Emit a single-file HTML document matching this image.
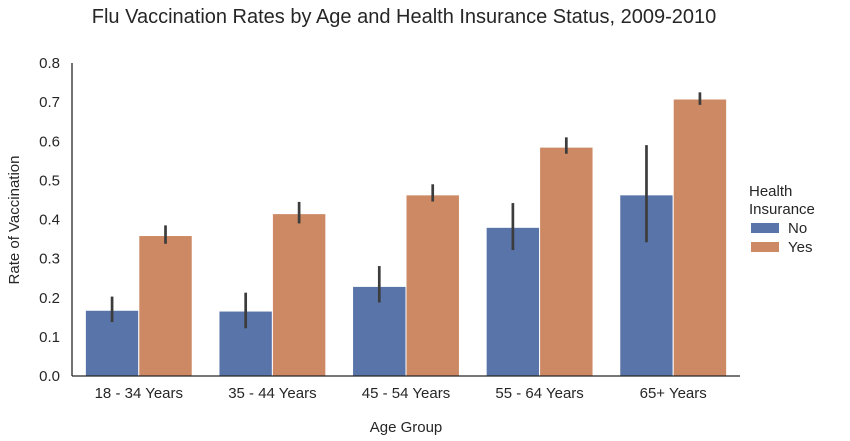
<!DOCTYPE html>
<html><head><meta charset="utf-8"><style>
body{margin:0;background:#fff;font-family:"Liberation Sans",sans-serif;}
svg{display:block}
</style></head><body>
<svg id="chart" width="850" height="441" font-family="Liberation Sans, sans-serif">
<text x="404" y="23" font-size="20" fill="#262626" text-anchor="middle">Flu Vaccination Rates by Age and Health Insurance Status, 2009-2010</text>
<text x="406" y="432" font-size="15" fill="#262626" text-anchor="middle">Age Group</text>
<text transform="translate(19,220) rotate(-90)" font-size="15" fill="#262626" text-anchor="middle">Rate of Vaccination</text>
<g id="bars"></g><g id="axes"></g>
<g>
<text x="749" y="196" font-size="15" fill="#262626">Health</text>
<text x="749" y="214" font-size="15" fill="#262626">Insurance</text>
<rect x="751" y="223" width="28" height="10" fill="#5874a8"/>
<text x="788" y="233" font-size="15" fill="#262626">No</text>
<rect x="751" y="242" width="28" height="10" fill="#cc8963"/>
<text x="788" y="252" font-size="15" fill="#262626">Yes</text>
</g>
</svg>
<script>
const categories=["18 - 34 Years","35 - 44 Years","45 - 54 Years","55 - 64 Years","65+ Years"];
const noValues=[0.168,0.166,0.229,0.380,0.463];
const yesValues=[0.359,0.415,0.463,0.585,0.708];
const noLow=[0.138,0.122,0.188,0.322,0.342];
const noHigh=[0.203,0.213,0.281,0.442,0.590];
const yesLow=[0.338,0.390,0.446,0.568,0.693];
const yesHigh=[0.385,0.445,0.490,0.610,0.725];
const yTicks=[0,0.1,0.2,0.3,0.4,0.5,0.6,0.7,0.8];
const NS="http://www.w3.org/2000/svg";
const x0=72,x1=740,yb=376,yt=63,ymax=0.8;
const y=v=>yb-(v/ymax)*(yb-yt);
const band=(x1-x0)/categories.length;
const cx=i=>x0+band*(i+0.5);
const bw=band*0.4;
function mk(tag,attrs,parent){const e=document.createElementNS(NS,tag);for(const k in attrs)e.setAttribute(k,attrs[k]);parent.appendChild(e);return e;}
const bars=document.getElementById('bars'),axes=document.getElementById('axes');
categories.forEach((c,i)=>{
 [[noValues,noLow,noHigh,'#5874a8',-1,'no'],[yesValues,yesLow,yesHigh,'#cc8963',0,'yes']].forEach(s=>{
  const xl=cx(i)+s[4]*bw;
  const r=mk('rect',{x:xl,y:y(s[0][i]),width:bw,height:yb-y(s[0][i]),fill:s[3],stroke:'#fff','stroke-width':1},bars);
  
  
  const l=mk('line',{x1:xl+bw/2,x2:xl+bw/2,y1:y(s[1][i]),y2:y(s[2][i]),stroke:'#3c3c3c','stroke-width':2.7},bars);
  
  
 });
 const t=mk('text',{x:cx(i),y:yb+22,'font-size':15,fill:'#262626','text-anchor':'middle'},axes);
 t.textContent=c;
 
 
});
yTicks.forEach(v=>{
 const t=mk('text',{x:x0-12,y:y(v)+5,'font-size':15,fill:'#262626','text-anchor':'end'},axes);
 t.textContent=v.toFixed(1);
 
 
});
const ya=mk('line',{x1:x0,x2:x0,y1:yt,y2:yb,stroke:'#262626','stroke-width':1.3},axes);


const xa=mk('line',{x1:x0,x2:x1,y1:yb,y2:yb,stroke:'#262626','stroke-width':1.3},axes);


</script>
</body></html>
